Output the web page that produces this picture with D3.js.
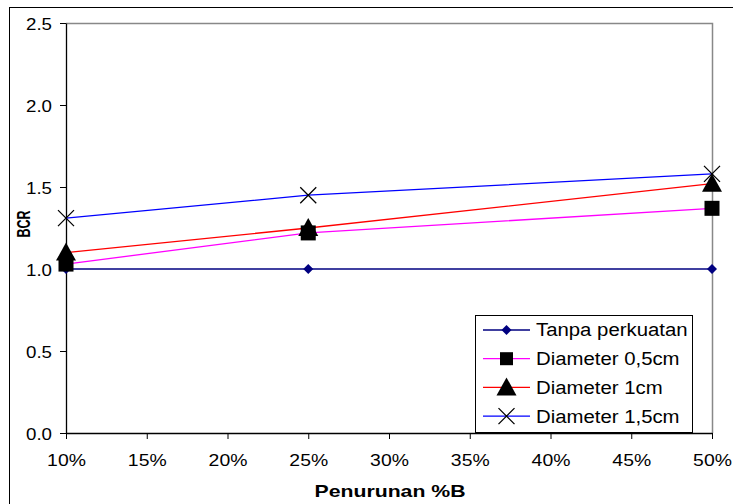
<!DOCTYPE html>
<html>
<head>
<meta charset="utf-8">
<script src="https://cdn.jsdelivr.net/npm/d3@7"></script>
<style>
  body { margin: 0; background: #fff; }
  text { font-family: Arial, "Liberation Sans", sans-serif; }
</style>
</head>
<body>
<script>
// data
var xValues = [10, 25, 50];
var tanpa = [1.0, 1.0, 1.0];
var diam05 = [1.03, 1.22, 1.37];
var diam1 = [1.10, 1.25, 1.52];
var diam15 = [1.31, 1.45, 1.58];
var xTicks = [10, 15, 20, 25, 30, 35, 40, 45, 50];
var yTicks = [0, 0.5, 1.0, 1.5, 2.0, 2.5];
var seriesNames = ["Tanpa perkuatan", "Diameter 0,5cm", "Diameter 1cm", "Diameter 1,5cm"];

var series = [
  {name: seriesNames[0], values: tanpa, color: "#000080", marker: "diamond"},
  {name: seriesNames[1], values: diam05, color: "#ff00ff", marker: "square"},
  {name: seriesNames[2], values: diam1, color: "#ff0000", marker: "triangle"},
  {name: seriesNames[3], values: diam15, color: "#0000ff", marker: "cross"}
];

var W = 733, H = 504;
var plot = {left: 66, right: 712, top: 23, bottom: 433};

var svg = d3.select("body").append("svg")
  .attr("width", W)
  .attr("height", H);

// text in the original is a little wider than Arial, stretch it
function stretch(sel, f) {
  sel.each(function() {
    var len = this.getComputedTextLength();
    d3.select(this)
      .attr("textLength", len * f)
      .attr("lengthAdjust", "spacingAndGlyphs");
  });
}

// outer chart frame
svg.append("rect")
  .attr("x", 9.5).attr("y", 7.5)
  .attr("width", W + 20).attr("height", H + 20)
  .attr("fill", "none").attr("stroke", "#000").attr("stroke-width", 1);

var xScale = d3.scaleLinear().domain([10, 50]).range([plot.left, plot.right]);
var yScale = d3.scaleLinear().domain([0, 2.5]).range([plot.bottom, plot.top]);

// plot border (top and right, grey)
svg.append("path")
  .attr("d", "M" + plot.left + "," + (plot.top + 0.5) + "H" + (plot.right + 0.5) + "V" + plot.bottom)
  .attr("fill", "none").attr("stroke", "#888").attr("stroke-width", 1.5);

var xAxis = d3.axisBottom(xScale)
  .tickValues(xTicks)
  .tickSize(6)
  .tickSizeOuter(0)
  .tickFormat(function(d) { return d + "%"; });

var yAxis = d3.axisLeft(yScale)
  .tickValues(yTicks)
  .tickSize(6)
  .tickSizeOuter(0)
  .tickFormat(d3.format(".1f"));

var gx = svg.append("g")
  .attr("transform", "translate(0," + plot.bottom + ")")
  .call(xAxis);
gx.selectAll("text").attr("dy", 0).attr("y", 33)
  .style("font-size", "17px").attr("fill", "#000");
gx.selectAll("line").attr("stroke", "#000");
gx.select(".domain").attr("stroke", "#000").attr("stroke-width", 1.3);
stretch(gx.selectAll("text"), 1.14);

var gy = svg.append("g")
  .attr("transform", "translate(" + plot.left + ",0)")
  .call(yAxis);
gy.selectAll("text").attr("x", -14).attr("dy", "0.36em")
  .style("font-size", "17px").attr("fill", "#000");
gy.selectAll("line").attr("stroke", "#000");
gy.select(".domain").attr("stroke", "#000").attr("stroke-width", 1.3);
stretch(gy.selectAll("text"), 1.1);

// lines
var line = d3.line()
  .x(function(d, i) { return xScale(xValues[i]); })
  .y(function(d) { return yScale(d); });

series.forEach(function(s) {
  svg.append("path")
    .datum(s.values)
    .attr("d", line)
    .attr("fill", "none")
    .attr("stroke", s.color)
    .attr("stroke-width", 1.3);
});

function drawMarker(g, type, cx, cy, small) {
  if (type == "diamond") {
    var r = 5;
    g.append("path")
      .attr("d", "M" + cx + "," + (cy - r) + "L" + (cx + r) + "," + cy + "L" + cx + "," + (cy + r) + "L" + (cx - r) + "," + cy + "Z")
      .attr("fill", "#000080");
  } else if (type == "square") {
    var h = small ? 6.5 : 7.5;
    g.append("rect")
      .attr("x", cx - h).attr("y", cy - h)
      .attr("width", 2 * h).attr("height", 2 * h)
      .attr("fill", "#000");
  } else if (type == "triangle") {
    g.append("path")
      .attr("d", "M" + cx + "," + (cy - 10) + "L" + (cx + 10) + "," + (cy + 8) + "L" + (cx - 10) + "," + (cy + 8) + "Z")
      .attr("fill", "#000");
  } else if (type == "cross") {
    var c = 8;
    g.append("path")
      .attr("d", "M" + (cx - c) + "," + (cy - c) + "L" + (cx + c) + "," + (cy + c) + "M" + (cx + c) + "," + (cy - c) + "L" + (cx - c) + "," + (cy + c))
      .attr("stroke", "#000").attr("stroke-width", 1.3).attr("fill", "none");
  }
}

series.forEach(function(s) {
  var g = svg.append("g");
  s.values.forEach(function(v, i) {
    drawMarker(g, s.marker, xScale(xValues[i]), yScale(v));
  });
});

// axis titles
svg.append("text")
  .attr("x", 390)
  .attr("y", 497)
  .attr("text-anchor", "middle")
  .attr("textLength", 151)
  .attr("lengthAdjust", "spacingAndGlyphs")
  .style("font-size", "17px")
  .style("font-weight", "bold")
  .text("Penurunan %B");

svg.append("text")
  .attr("transform", "translate(30,224) rotate(-90)")
  .attr("text-anchor", "middle")
  .attr("textLength", 27)
  .attr("lengthAdjust", "spacingAndGlyphs")
  .style("font-size", "18px")
  .style("font-weight", "bold")
  .text("BCR");

// legend
var legend = svg.append("g");
legend.append("rect")
  .attr("x", 475.5).attr("y", 315.5)
  .attr("width", 217).attr("height", 117)
  .attr("fill", "#fff").attr("stroke", "#000").attr("stroke-width", 1);

series.forEach(function(s, i) {
  var y = 330 + i * 28.7;
  legend.append("line")
    .attr("x1", 483).attr("x2", 530)
    .attr("y1", y).attr("y2", y)
    .attr("stroke", s.color).attr("stroke-width", 1.3);
  drawMarker(legend, s.marker, 506.5, y, true);
  legend.append("text")
    .attr("x", 536).attr("y", y)
    .attr("dy", "0.36em")
    .style("font-size", "18px")
    .text(s.name);
});
stretch(legend.selectAll("text"), 1.13);
</script>
</body>
</html>
